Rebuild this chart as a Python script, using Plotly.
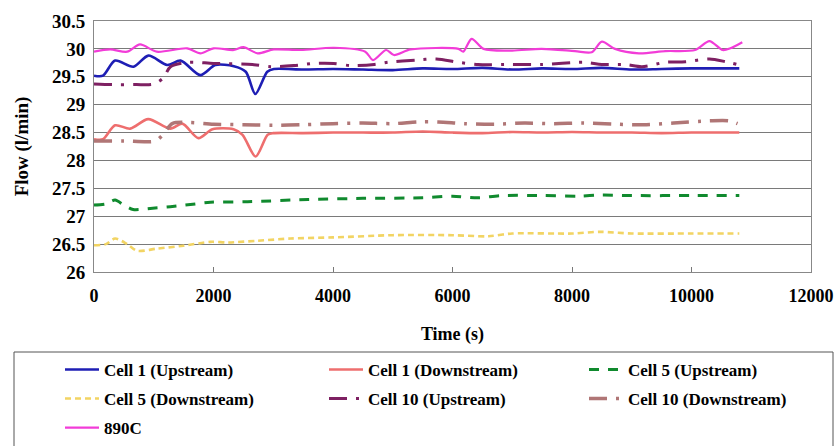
import plotly.graph_objects as go

# ---- data ----
cell1_up_x = [0, 150, 353, 660, 910, 1225, 1450, 1780, 2030, 2340, 2540, 2700, 2900, 3010, 3500, 4000, 4500, 5000, 5500, 6000, 6500, 7000, 7500, 8000, 8500, 9000, 9500, 10000, 10500, 10800]
cell1_up_y = [29.52, 29.52, 29.79, 29.68, 29.88, 29.71, 29.79, 29.53, 29.71, 29.69, 29.59, 29.19, 29.59, 29.64, 29.63, 29.64, 29.63, 29.62, 29.65, 29.64, 29.66, 29.63, 29.65, 29.64, 29.66, 29.63, 29.64, 29.65, 29.65, 29.65]

cell1_dn_x = [0, 150, 353, 605, 907, 1277, 1478, 1747, 1982, 2335, 2486, 2705, 2906, 3000, 3500, 4000, 4500, 5000, 5500, 6000, 6500, 7000, 7500, 8000, 8500, 9000, 9500, 10000, 10500, 10800]
cell1_dn_y = [28.38, 28.38, 28.63, 28.57, 28.74, 28.57, 28.66, 28.40, 28.56, 28.56, 28.46, 28.07, 28.46, 28.49, 28.49, 28.50, 28.50, 28.50, 28.52, 28.50, 28.49, 28.51, 28.50, 28.51, 28.50, 28.50, 28.49, 28.50, 28.50, 28.50]

cell5_up_x = [0, 200, 353, 500, 655, 940, 1277, 1613, 1949, 2570, 3580, 4500, 5500, 6000, 6430, 6800, 7500, 8110, 8500, 9000, 10000, 10800]
cell5_up_y = [27.20, 27.22, 27.29, 27.20, 27.12, 27.14, 27.17, 27.21, 27.25, 27.26, 27.30, 27.32, 27.33, 27.36, 27.33, 27.37, 27.37, 27.36, 27.38, 27.37, 27.37, 27.37]

cell5_dn_x = [0, 200, 353, 555, 720, 1058, 1495, 1949, 2250, 2740, 3290, 4000, 5000, 6000, 6600, 7000, 8000, 8470, 9000, 10000, 10800]
cell5_dn_y = [26.48, 26.50, 26.60, 26.50, 26.38, 26.42, 26.47, 26.54, 26.53, 26.56, 26.60, 26.62, 26.66, 26.66, 26.64, 26.69, 26.69, 26.72, 26.69, 26.69, 26.69]

cell10_up_x = [0, 300, 700, 1000, 1160, 1280, 1580, 2000, 2650, 2960, 3340, 3680, 4010, 4300, 4690, 4920, 5390, 5730, 6100, 6430, 7000, 7500, 8200, 8500, 8890, 9170, 9560, 9900, 10300, 10570, 10770]
cell10_up_y = [29.37, 29.36, 29.36, 29.37, 29.48, 29.68, 29.76, 29.74, 29.72, 29.68, 29.70, 29.74, 29.74, 29.70, 29.72, 29.76, 29.80, 29.82, 29.76, 29.72, 29.72, 29.72, 29.76, 29.72, 29.72, 29.68, 29.76, 29.77, 29.82, 29.77, 29.72]

cell10_dn_x = [0, 500, 1025, 1160, 1310, 1610, 2000, 2500, 3000, 3500, 4000, 4500, 5000, 5430, 5760, 6200, 6700, 7200, 7700, 8200, 8700, 9200, 9700, 10300, 10630, 10770]
cell10_dn_y = [28.35, 28.35, 28.35, 28.47, 28.66, 28.68, 28.65, 28.64, 28.63, 28.64, 28.66, 28.67, 28.66, 28.69, 28.69, 28.66, 28.65, 28.67, 28.66, 28.67, 28.65, 28.64, 28.67, 28.71, 28.71, 28.66]

c890_x = [0, 270, 555, 770, 1050, 1560, 1780, 2000, 2340, 2500, 2740, 3010, 3460, 4015, 4540, 4670, 4890, 5020, 5300, 6100, 6180, 6320, 6520, 7000, 7490, 8050, 8330, 8500, 8720, 9120, 9560, 10060, 10300, 10520, 10650, 10850]
c890_y = [29.95, 29.99, 29.95, 30.08, 29.95, 30.01, 29.92, 30.01, 29.98, 30.03, 29.92, 29.99, 29.98, 30.02, 29.95, 29.80, 29.98, 29.89, 29.99, 30.00, 29.95, 30.18, 30.00, 29.97, 30.00, 29.96, 29.94, 30.13, 30.00, 29.92, 29.96, 29.98, 30.14, 29.98, 30.01, 30.12]

x_ticks = [0, 2000, 4000, 6000, 8000, 10000, 12000]
y_ticks = [26, 26.5, 27, 27.5, 28, 28.5, 29, 29.5, 30, 30.5]

# name, x, y, colour, dash, width, legend (column, row)
series = [
    ("Cell 1 (Upstream)", cell1_up_x, cell1_up_y, "#1E1EB4", "solid", 2.6, (0, 0)),
    ("Cell 1 (Downstream)", cell1_dn_x, cell1_dn_y, "#EE6E6E", "solid", 2.6, (1, 0)),
    ("Cell 5 (Upstream)", cell5_up_x, cell5_up_y, "#108A2E", "10px,9px", 3, (2, 0)),
    ("Cell 5 (Downstream)", cell5_dn_x, cell5_dn_y, "#F2D463", "6px,4px", 2.6, (0, 1)),
    ("Cell 10 (Upstream)", cell10_up_x, cell10_up_y, "#7E2062", "18px,9px,3px,9px", 3, (1, 1)),
    ("Cell 10 (Downstream)", cell10_dn_x, cell10_dn_y, "#B07676", "18px,9px,3px,9px", 3.5, (2, 1)),
    ("890C", c890_x, c890_y, "#F23CD8", "solid", 2.2, (0, 2)),
]

FONT = "Liberation Serif"

L, R, T, B = 94, 25, 21, 174
W, H = 836, 446
pw, ph = W - L - R, H - T - B


def px_x(p):
    return (p - L) / pw


def px_y(p):
    return (H - B - p) / ph


col_px = [60, 324, 584]
row_px = [352, 381, 410]

leg_common = dict(
    orientation="v", xanchor="left", yanchor="top",
    borderwidth=0, bgcolor="rgba(0,0,0,0)",
    font=dict(family=FONT, size=17, color="black"),
    itemwidth=34, tracegroupgap=0,
)

fig = go.Figure()
legends = {}
for i, (name, xs, ys, col, dash, w, (c, r)) in enumerate(series):
    leg = "legend" if i == 0 else "legend%d" % (i + 1)
    legends[leg] = dict(x=px_x(col_px[c]), y=px_y(row_px[r]), **leg_common)
    fig.add_trace(go.Scatter(
        x=xs, y=ys, name="<b>%s</b>" % name, mode="lines", legend=leg,
        line=dict(color=col, dash=dash, width=w, shape="spline", smoothing=0.8),
    ))

fig.update_layout(
    width=W, height=H,
    margin=dict(l=L, r=R, t=T, b=B, autoexpand=False),
    plot_bgcolor="white", paper_bgcolor="white",
    font=dict(family=FONT, size=18, color="black"),
    showlegend=True,
    shapes=[dict(type="rect", xref="paper", yref="paper",
                 x0=px_x(14), x1=px_x(833), y0=px_y(352), y1=px_y(470),
                 line=dict(color="#555555", width=1), fillcolor="rgba(0,0,0,0)")],
    **legends,
)

fig.update_xaxes(
    range=[0, 12000], tickvals=x_ticks, ticktext=["<b>%d</b>" % v for v in x_ticks],
    ticks="inside", ticklen=5, tickcolor="#777777", ticklabelstandoff=7,
    showline=True, linecolor="#888888", linewidth=1, mirror=True,
    showgrid=False, zeroline=False,
    tickfont=dict(family=FONT, size=18),
    title=dict(text="<b>Time (s)</b>", font=dict(family=FONT, size=18), standoff=22),
)
fig.update_yaxes(
    range=[26, 30.5], tickvals=y_ticks, ticktext=["<b>%g</b>" % v for v in y_ticks],
    ticks="", ticklabelstandoff=4,
    showline=True, linecolor="#888888", linewidth=1, mirror=True,
    showgrid=True, gridcolor="#7a7a7a", gridwidth=1, zeroline=False,
    tickfont=dict(family=FONT, size=19),
    title=dict(text="<b>Flow (l/min)</b>", font=dict(family=FONT, size=19), standoff=18),
)

fig.write_html("out.html")
